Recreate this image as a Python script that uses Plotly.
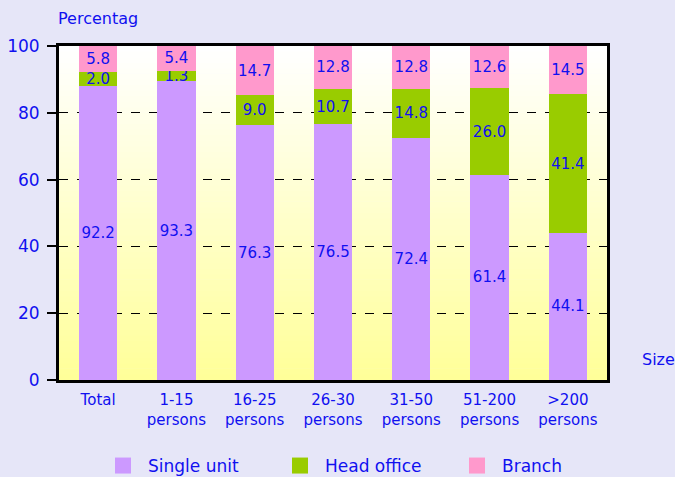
import plotly.graph_objects as go

categories = ["Total", "1-15", "16-25", "26-30", "31-50", "51-200", ">200"]
tick_labels = ["Total", "1-15<br>persons", "16-25<br>persons", "26-30<br>persons",
               "31-50<br>persons", "51-200<br>persons", ">200<br>persons"]
# printed labels
single_unit_lbl = [92.2, 93.3, 76.3, 76.5, 72.4, 61.4, 44.1]
head_office_lbl = [2.0, 1.3, 9.0, 10.7, 14.8, 26.0, 41.4]
branch_lbl = [5.8, 5.4, 14.7, 12.8, 12.8, 12.6, 14.5]
# bar heights as drawn in the picture
single_unit = [88.1, 89.5, 76.3, 76.5, 72.4, 61.4, 44.1]
head_office = [4.0, 3.1, 9.0, 10.7, 14.8, 26.0, 41.4]
branch = [7.9, 7.4, 14.7, 12.8, 12.8, 12.6, 14.5]
y_ticks = [0, 20, 40, 60, 80, 100]

BLUE = "#1010F0"
FONT = "DejaVu Sans"

fig = go.Figure()
series = [("Single unit", single_unit, single_unit_lbl, "#CC99FF"),
          ("Head office", head_office, head_office_lbl, "#99CC00"),
          ("Branch", branch, branch_lbl, "#FF99CC")]
for name, vals, lbls, col in series:
    fig.add_trace(go.Bar(
        x=categories, y=vals, name=name, marker=dict(color=col, line=dict(width=0)),
        text=[f"{v:.1f}" for v in lbls], textposition="inside",
        insidetextanchor="middle", textangle=0, constraintext="none",
        textfont=dict(color=BLUE, size=15, family=FONT), showlegend=False,
    ))
# legend entries with larger square swatches
for name, vals, lbls, col in series:
    fig.add_trace(go.Scatter(
        x=[None], y=[None], mode="markers", name=name,
        marker=dict(symbol="square", size=16, color=col),
    ))

# gradient plot background (white top -> light yellow bottom)
N = 60
shapes = []
for i in range(N):
    t = i / (N - 1)  # 0 bottom, 1 top
    b = int(round(0x99 + (0xFF - 0x99) * t))
    shapes.append(dict(type="rect", xref="paper", yref="paper",
                       x0=0, x1=1, y0=i / N, y1=(i + 1) / N + 0.002,
                       fillcolor=f"rgb(255,255,{b})", line=dict(width=0), layer="below"))

fig.update_layout(
    barmode="stack",
    bargap=0.51,
    width=675, height=477,
    margin=dict(l=59, r=68, t=46, b=97),
    paper_bgcolor="#E6E6F8",
    plot_bgcolor="rgba(0,0,0,0)",
    shapes=shapes,
    font=dict(family=FONT, color=BLUE),
    xaxis=dict(tickvals=categories, ticktext=tick_labels, showline=True, linecolor="black",
               linewidth=3, mirror=True, ticks="", ticklabelstandoff=4, automargin=False,
               tickfont=dict(size=15, color=BLUE, family=FONT), showgrid=False),
    yaxis=dict(range=[0, 100], tickvals=y_ticks, showline=True, linecolor="black", linewidth=3,
               mirror=True, ticks="outside", ticklen=9, tickwidth=2, tickcolor="black",
               ticklabelstandoff=4, automargin=False,
               tickfont=dict(size=17, color=BLUE, family=FONT),
               showgrid=True, gridcolor="black", gridwidth=1, griddash="dash", zeroline=False),
    legend=dict(orientation="h", xref="container", x=98 / 675, xanchor="left",
                yref="container", y=(477 - 466) / 477, yanchor="middle",
                font=dict(size=17, color=BLUE, family=FONT), entrywidth=122, itemwidth=40,
                entrywidthmode="pixels", bgcolor="rgba(0,0,0,0)", traceorder="normal"),
    annotations=[
        dict(text="Percentag", xref="paper", yref="paper", x=0, y=1, yshift=28, xshift=-3,
             xanchor="left", yanchor="middle", showarrow=False,
             font=dict(size=16, color=BLUE, family=FONT)),
        dict(text="Size", xref="paper", yref="paper", x=1, xshift=33, y=0.06,
             xanchor="left", yanchor="middle", showarrow=False,
             font=dict(size=16, color=BLUE, family=FONT)),
    ],
)

fig.write_html("out.html", config={"displayModeBar": False},
               post_script="document.body.style.margin='0';")
